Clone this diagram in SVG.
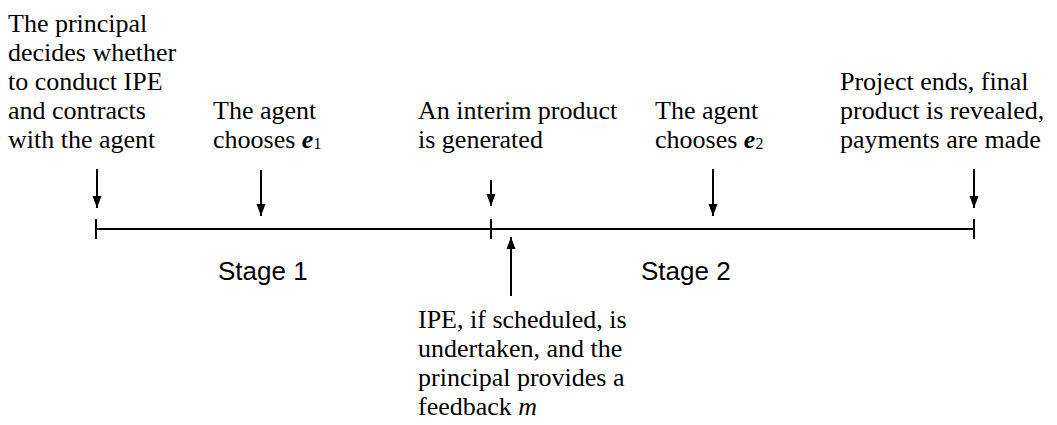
<svg xmlns="http://www.w3.org/2000/svg" width="1057" height="425" viewBox="0 0 1057 425">
<defs>
<marker id="ah" viewBox="0 0 12 10" refX="12" refY="5" markerWidth="12" markerHeight="10" markerUnits="userSpaceOnUse" orient="auto">
<path d="M0,0.5 L12,5 L0,9.5 z" fill="#000"/>
</marker>
<style>
.t{font-family:"Liberation Serif","Times New Roman",serif;font-size:26px;fill:#000}
.s{font-family:"Liberation Sans",Arial,sans-serif;font-size:26px;fill:#000}
.ln{stroke:#000;stroke-width:2;fill:none}
.ar{stroke:#000;stroke-width:2;fill:none;marker-end:url(#ah)}
</style>
</defs>
<rect width="1057" height="425" fill="#fff"/>
<g id="connectors">
<line class="ln" x1="96" y1="229" x2="974" y2="229"/>
<line class="ln" x1="96" y1="219" x2="96" y2="239"/>
<line class="ln" x1="491" y1="219" x2="491" y2="239"/>
<line class="ln" x1="974" y1="219" x2="974" y2="239"/>
<line class="ar" x1="97" y1="169" x2="97" y2="208"/>
<line class="ar" x1="261" y1="170" x2="261" y2="216"/>
<line class="ar" x1="491" y1="180" x2="491" y2="206"/>
<line class="ar" x1="713" y1="169" x2="713" y2="216"/>
<line class="ar" x1="974" y1="169" x2="974" y2="208"/>
<line class="ar" x1="511" y1="296" x2="511" y2="237"/>
</g>
<g id="n-start">
<text class="t" x="8" y="32">The principal</text>
<text class="t" x="8" y="61">decides whether</text>
<text class="t" x="8" y="90">to conduct IPE</text>
<text class="t" x="8" y="119">and contracts</text>
<text class="t" x="8" y="148">with the agent</text>
</g>
<g id="n-e1">
<text class="t" x="213" y="119">The agent</text>
<text class="t" x="213" y="148">chooses <tspan font-style="italic" font-weight="bold">e</tspan><tspan font-size="16" dy="1">1</tspan></text>
</g>
<g id="n-interim">
<text class="t" x="418" y="119">An interim product</text>
<text class="t" x="418" y="148">is generated</text>
</g>
<g id="n-e2">
<text class="t" x="655" y="119">The agent</text>
<text class="t" x="655" y="148">chooses <tspan font-style="italic" font-weight="bold">e</tspan><tspan font-size="16" dy="1">2</tspan></text>
</g>
<g id="n-end">
<text class="t" x="840" y="90">Project ends, final</text>
<text class="t" x="840" y="119">product is revealed,</text>
<text class="t" x="840" y="148">payments are made</text>
</g>
<g id="n-ipe">
<text class="t" x="418" y="328">IPE, if scheduled, is</text>
<text class="t" x="418" y="357">undertaken, and the</text>
<text class="t" x="418" y="386">principal provides a</text>
<text class="t" x="418" y="415">feedback <tspan font-style="italic">m</tspan></text>
</g>
<g id="n-stage1">
<text class="s" x="218" y="280">Stage 1</text>
</g>
<g id="n-stage2">
<text class="s" x="641" y="280">Stage 2</text>
</g>
</svg>
